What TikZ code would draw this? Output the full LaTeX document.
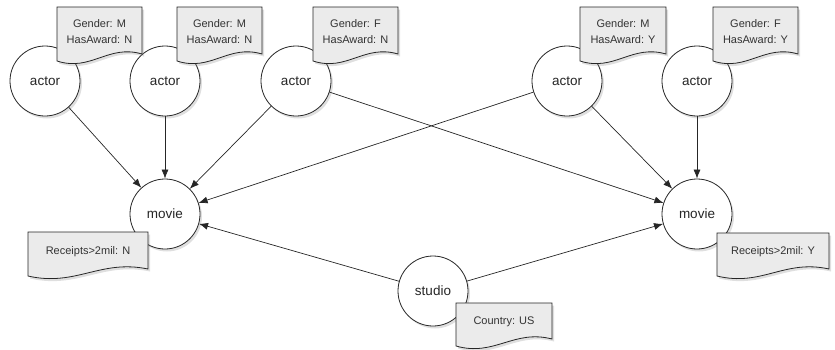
\documentclass[tikz,border=0pt]{standalone}
\usepackage{fontspec}
\setmainfont{Liberation Sans}
\usetikzlibrary{shadows,arrows.meta,calc}

\tikzset{
  ent/.style={circle, draw=black!85, line width=0.8pt, fill=white,
    minimum size=70pt, inner sep=0pt, font=\fontsize{13.5}{15}\selectfont,
    text=black!85,
    drop shadow={shadow xshift=2pt, shadow yshift=-2.5pt, opacity=0.25}},
  notetext/.style={inner sep=0pt, align=center,
    font=\fontsize{11}{15.5}\selectfont, text=black!80},
  notebox/.style={draw=black!85, line width=0.8pt, fill=black!8,
    drop shadow={shadow xshift=2pt, shadow yshift=-2.5pt, opacity=0.25}},
  rel/.style={-{Latex[length=9pt,width=7pt]}, line width=0.7pt, draw=black!85},
}

% #1 name, #2 x0, #3 y0, #4 x1, #5 bottom-left y, #6 text
\newcommand\docnote[6]{%
  \draw[notebox] (#2,#3) -- (#4,#3) -- (#4,#5-7)
    .. controls ({#2+0.6*(#4-#2)},#5-17) and ({#2+0.4*(#4-#2)},#5+11) .. (#2,#5) -- cycle;
  \node[notetext] (#1) at ({(#2+#4)/2},{(#3+#5)/2-2.5}) {#6};
}

\begin{document}
\begin{tikzpicture}[x=1pt,y=-1pt]
\useasboundingbox (0,0) rectangle (835,349);

\node[ent] (a1) at (45,81) {actor};
\node[ent] (a2) at (165,81) {actor};
\node[ent] (a3) at (296,81) {actor};
\node[ent] (a4) at (567,81) {actor};
\node[ent] (a5) at (697,81) {actor};
\node[ent] (m1) at (165,214) {movie};
\node[ent] (m2) at (697,214) {movie};
\node[ent] (s) at (433,291) {studio};

\draw[rel] (a1) -- (m1);
\draw[rel] (a2) -- (m1);
\draw[rel] (a3) -- (m1);
\draw[rel] (a4) -- (m1);
\draw[rel] (a3) -- (m2);
\draw[rel] (a4) -- (m2);
\draw[rel] (a5) -- (m2);
\draw[rel] (s) -- (m1);
\draw[rel] (s) -- (m2);

\docnote{n1}{57}{7}{142}{61}{Gender: M\\HasAward: N}
\docnote{n2}{177}{7}{262}{61}{Gender: M\\HasAward: N}
\docnote{n3}{313}{7}{398}{61}{Gender: F\\HasAward: N}
\docnote{n4}{580}{7}{666}{61}{Gender: M\\HasAward: Y}
\docnote{n5}{713}{7}{798}{61}{Gender: F\\HasAward: Y}
\docnote{nm1}{28}{232}{148}{276}{Receipts>2mil: N}
\docnote{nm2}{717}{233}{829}{276}{Receipts>2mil: Y}
\docnote{ns}{456}{303}{552}{346}{Country: US}
\end{tikzpicture}
\end{document}
